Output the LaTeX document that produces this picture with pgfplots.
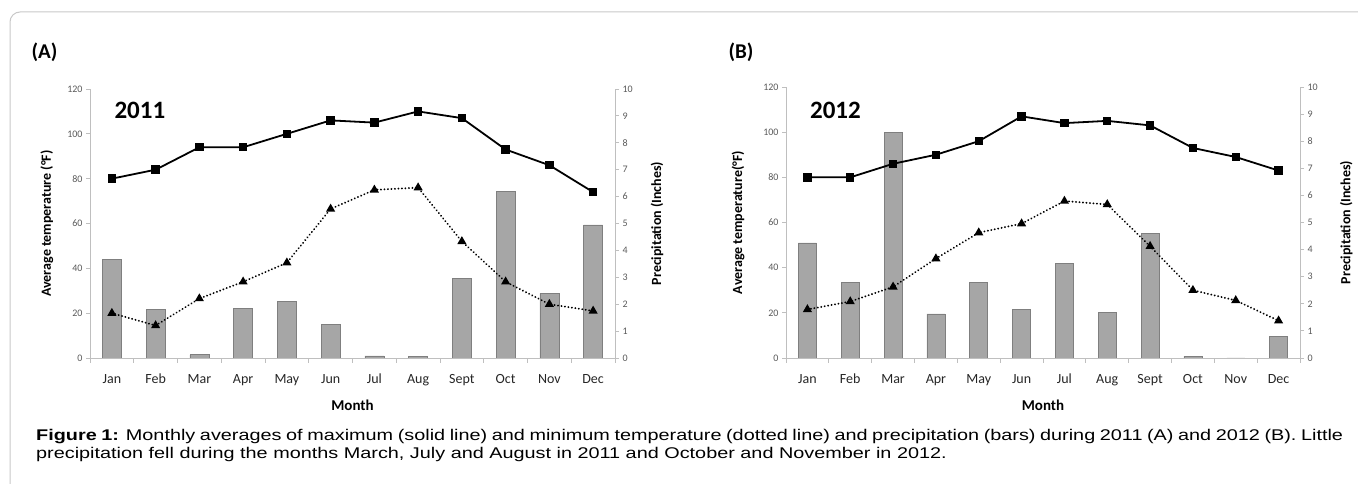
\documentclass[border=0pt]{standalone}
\usepackage{fontspec}
\setmainfont{Carlito}
\newfontfamily\arialfont[FakeStretch=1.28]{Liberation Sans}
\usepackage{pgfplots}
\pgfplotsset{compat=1.18}
\definecolor{bargray}{HTML}{A6A6A6}
\definecolor{baredge}{HTML}{7F7F7F}
\definecolor{axgray}{HTML}{BFBFBF}
\definecolor{ticklab}{HTML}{595959}
\definecolor{framegray}{HTML}{C8C8C8}

\pgfplotsset{
  panel/.style={scale only axis, anchor=south west, xmin=0.5, xmax=12.5, clip=false,
    /pgf/number format/assume math mode=true,
    tick align=outside, major tick length=4pt, minor tick length=5pt,
    y axis line style={axgray, line width=0.8pt},
    x axis line style={axgray, line width=0.8pt},
    ytick style={axgray, line width=0.8pt},
    yticklabel style={font=\fontsize{10}{10}\selectfont, text=ticklab},
    ylabel style={font=\fontsize{14}{14}\selectfont\bfseries, anchor=center},
  },
  barsax/.style={panel, ymin=0, ymax=10, ytick={0,1,...,10}, axis y line*=right,
    axis x line=none, xtick=\empty},
  linesax/.style={panel, ymin=0, ymax=120, ytick={0,20,...,120}, axis y line*=left,
    axis x line*=bottom, xtick={1,...,12},
    xticklabels={Jan,Feb,Mar,Apr,May,Jun,Jul,Aug,Sept,Oct,Nov,Dec},
    xticklabel style={font=\fontsize{14}{14}\selectfont, text=black!85, anchor=base, yshift=-22pt},
    minor xtick={0.5,1.5,...,12.5},
    major x tick style={draw=none},
    minor x tick style={axgray, line width=0.8pt},
    xlabel={Month},
    xlabel style={font=\fontsize{15}{15}\selectfont\bfseries, at={(axis description cs:0.5,-0.175)}, anchor=center},
  },
  tmax/.style={black, line width=1.8pt, mark=square*, mark size=3.3pt, mark options={solid}},
  tmin/.style={black, line width=2pt, line cap=round, dash pattern=on 0.1pt off 3.4pt, mark=triangle*, mark size=3.3pt, mark options={solid}},
  prec/.style={ybar, fill=bargray, draw=baredge, line width=0.6pt},
}

\pgfplotstableread{
m pA tmaxA tminA pB tmaxB tminB
1  3.67 80  20   4.25 80  21.5
2  1.80 84  14.5 2.78 80  25
3  0.12 94  26.5 8.33 86  31.5
4  1.85 94  34   1.63 90  44
5  2.10 100 42.5 2.78 96  55.5
6  1.25 106 66.5 1.78 107 59.5
7  0.08 105 75   3.50 104 69.5
8  0.06 110 76   1.67 105 68
9  2.95 107 52   4.60 103 49.5
10 6.20 93  34   0.06 93  30
11 2.40 86  24   0.00 89  25.5
12 4.95 74  21   0.80 83  16.5
}\data

\begin{document}
\begin{tikzpicture}
\useasboundingbox (0pt,0pt) rectangle (1358pt,484pt);
\draw[framegray, line width=1pt, rounded corners=10pt] (10pt,-20pt) -- (10pt,472pt) -- (1380pt,472pt);

\node[anchor=west, font=\fontsize{21}{21}\selectfont\bfseries] at (28pt,432pt) {(A)};
\node[anchor=west, font=\fontsize{21}{21}\selectfont\bfseries] at (725pt,432pt) {(B)};

% Panel A
\begin{axis}[barsax, at={(90pt,126pt)}, width=525pt, height=269pt,
  ylabel={Precipitation (Inches)}, ylabel style={at={(axis description cs:1.08,0.5)}}]
\addplot[prec, bar width=19pt] table[x=m, y=pA] {\data};
\end{axis}
\begin{axis}[linesax, at={(90pt,126pt)}, width=525pt, height=269pt,
  ylabel={Average temperature (°F)}, ylabel style={at={(axis description cs:-0.082,0.5)}}]
\addplot[tmax] table[x=m, y=tmaxA] {\data};
\addplot[tmin] table[x=m, y=tminA] {\data};
\node[anchor=west, font=\fontsize{25}{25}\selectfont\bfseries] at (axis description cs:0.04,0.922) {2011};
\end{axis}

% Panel B
\begin{axis}[barsax, at={(786pt,126pt)}, width=514pt, height=271pt,
  ylabel={Precipitation (Inches)}, ylabel style={at={(axis description cs:1.09,0.5)}}]
\addplot[prec, bar width=18pt] table[x=m, y=pB] {\data};
\end{axis}
\begin{axis}[linesax, at={(786pt,126pt)}, width=514pt, height=271pt,
  ylabel={Average temperature(°F)}, ylabel style={at={(axis description cs:-0.093,0.5)}}]
\addplot[tmax] table[x=m, y=tmaxB] {\data};
\addplot[tmin] table[x=m, y=tminB] {\data};
\node[anchor=west, font=\fontsize{25}{25}\selectfont\bfseries] at (axis description cs:0.04,0.915) {2012};
\end{axis}

\node[anchor=north west, text width=1307pt, align=justify, inner sep=0pt,
  font=\arialfont\fontsize{15.5}{18}\selectfont] at (36pt,54.5pt)
  {\textbf{Figure 1:} Monthly averages of maximum (solid line) and minimum temperature (dotted line) and precipitation (bars) during 2011 (A) and 2012 (B). Little\linebreak precipitation fell during the months March, July and August in 2011 and October and November in 2012.};
\end{tikzpicture}
\end{document}
